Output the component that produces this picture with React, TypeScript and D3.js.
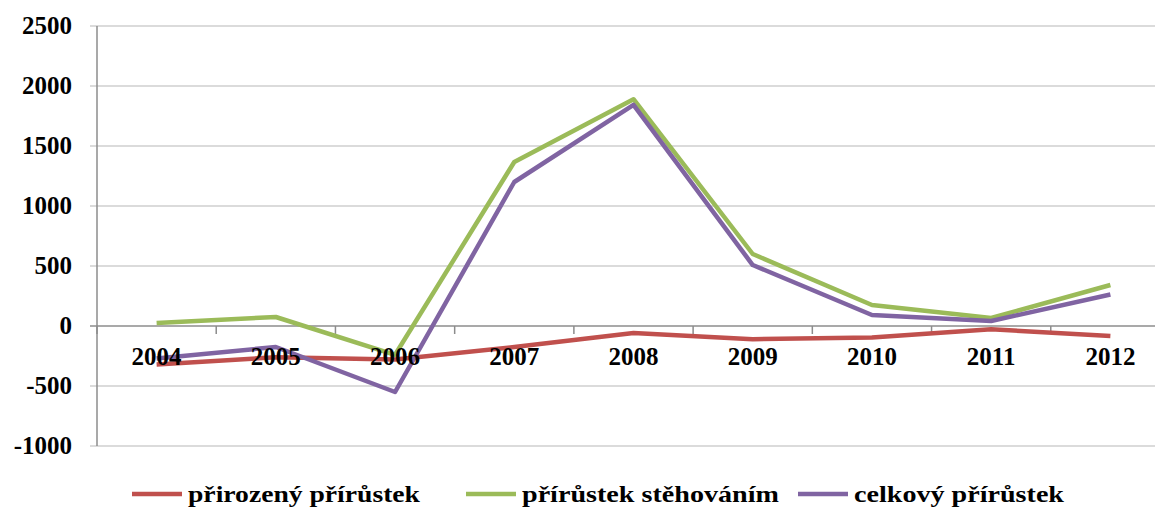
import * as d3 from 'd3';
import { useRef, useEffect } from 'react';

const years = ['2004', '2005', '2006', '2007', '2008', '2009', '2010', '2011', '2012'];
const prirozeny = [-320, -260, -280, -175, -58, -110, -95, -27, -83];
const stehovanim = [25, 75, -240, 1367, 1890, 600, 175, 67, 342];
const celkovy = [-270, -175, -550, 1200, 1842, 508, 92, 42, 262];
const yTicks = [-1000, -500, 0, 500, 1000, 1500, 2000, 2500];

const series = [
  { name: 'přirozený  přírůstek', values: prirozeny, color: '#C0504D' },
  { name: 'přírůstek stěhováním', values: stehovanim, color: '#9BBB59' },
  { name: 'celkový přírůstek', values: celkovy, color: '#8064A2' },
];

export default function App() {
  const svgRef = useRef<SVGSVGElement>(null);

  useEffect(() => {
    if (!svgRef.current) return;
    const svg = d3.select(svgRef.current);
    svg.selectAll('*').remove();

    const font = '"Liberation Serif", "Times New Roman", serif';
    const left = 97;
    const x = d3.scaleBand<string>().domain(years).range([left, 1170]).padding(0);
    const y = d3.scaleLinear().domain([-1000, 2500]).range([446, 26]);

    // Gridlines
    svg.append('g')
      .selectAll('line')
      .data(yTicks)
      .join('line')
      .attr('x1', left - 7).attr('x2', 1155)
      .attr('y1', (d) => y(d)).attr('y2', (d) => y(d))
      .attr('stroke', (d) => (d === 0 ? '#8c8c8c' : '#cfcfcf'))
      .attr('stroke-width', 1.5);

    // Y axis line
    svg.append('line')
      .attr('x1', left).attr('x2', left)
      .attr('y1', y(2500)).attr('y2', y(-1000))
      .attr('stroke', '#8c8c8c').attr('stroke-width', 1.5);

    // Y labels
    svg.append('g')
      .selectAll('text')
      .data(yTicks)
      .join('text')
      .attr('x', 72)
      .attr('y', (d) => y(d) + 8)
      .attr('text-anchor', 'end')
      .attr('font-family', font).attr('font-weight', 'bold').attr('font-size', 25)
      .attr('fill', '#000')
      .text((d) => String(d));

    // X tick marks at band edges
    svg.append('g')
      .selectAll('line')
      .data(years)
      .join('line')
      .attr('x1', (d) => x(d)!).attr('x2', (d) => x(d)!)
      .attr('y1', y(0)).attr('y2', y(0) + 8)
      .attr('stroke', '#8c8c8c').attr('stroke-width', 1.5);

    const line = d3.line<number>()
      .x((_, i) => x(years[i])! + x.bandwidth() / 2)
      .y((d) => y(d));

    series.forEach((s) => {
      svg.append('path')
        .datum(s.values)
        .attr('fill', 'none')
        .attr('stroke', s.color)
        .attr('stroke-width', 4.5)
        .attr('stroke-linejoin', 'round')
        .attr('d', line);
    });

    // X labels (drawn over the lines)
    svg.append('g')
      .selectAll('text')
      .data(years)
      .join('text')
      .attr('x', (d) => x(d)! + x.bandwidth() / 2)
      .attr('y', 365)
      .attr('text-anchor', 'middle')
      .attr('font-family', font).attr('font-weight', 'bold').attr('font-size', 25)
      .attr('fill', '#000')
      .text((d) => d);

    // Legend
    const legendX = [132, 466, 798];
    const legendW = [232, 257, 210];
    series.forEach((s, i) => {
      svg.append('line')
        .attr('x1', legendX[i]).attr('x2', legendX[i] + 50)
        .attr('y1', 494).attr('y2', 494)
        .attr('stroke', s.color).attr('stroke-width', 4.5);
      svg.append('text')
        .attr('x', legendX[i] + 56)
        .attr('y', 502)
        .attr('font-family', font).attr('font-weight', 'bold').attr('font-size', 23)
        .attr('textLength', legendW[i])
        .attr('lengthAdjust', 'spacingAndGlyphs')
        .attr('fill', '#000')
        .text(s.name);
    });
  }, []);

  return (
    <svg
      ref={svgRef}
      width={1155}
      height={511}
      style={{ position: 'absolute', left: 0, top: 0, background: '#fff' }}
    />
  );
}
